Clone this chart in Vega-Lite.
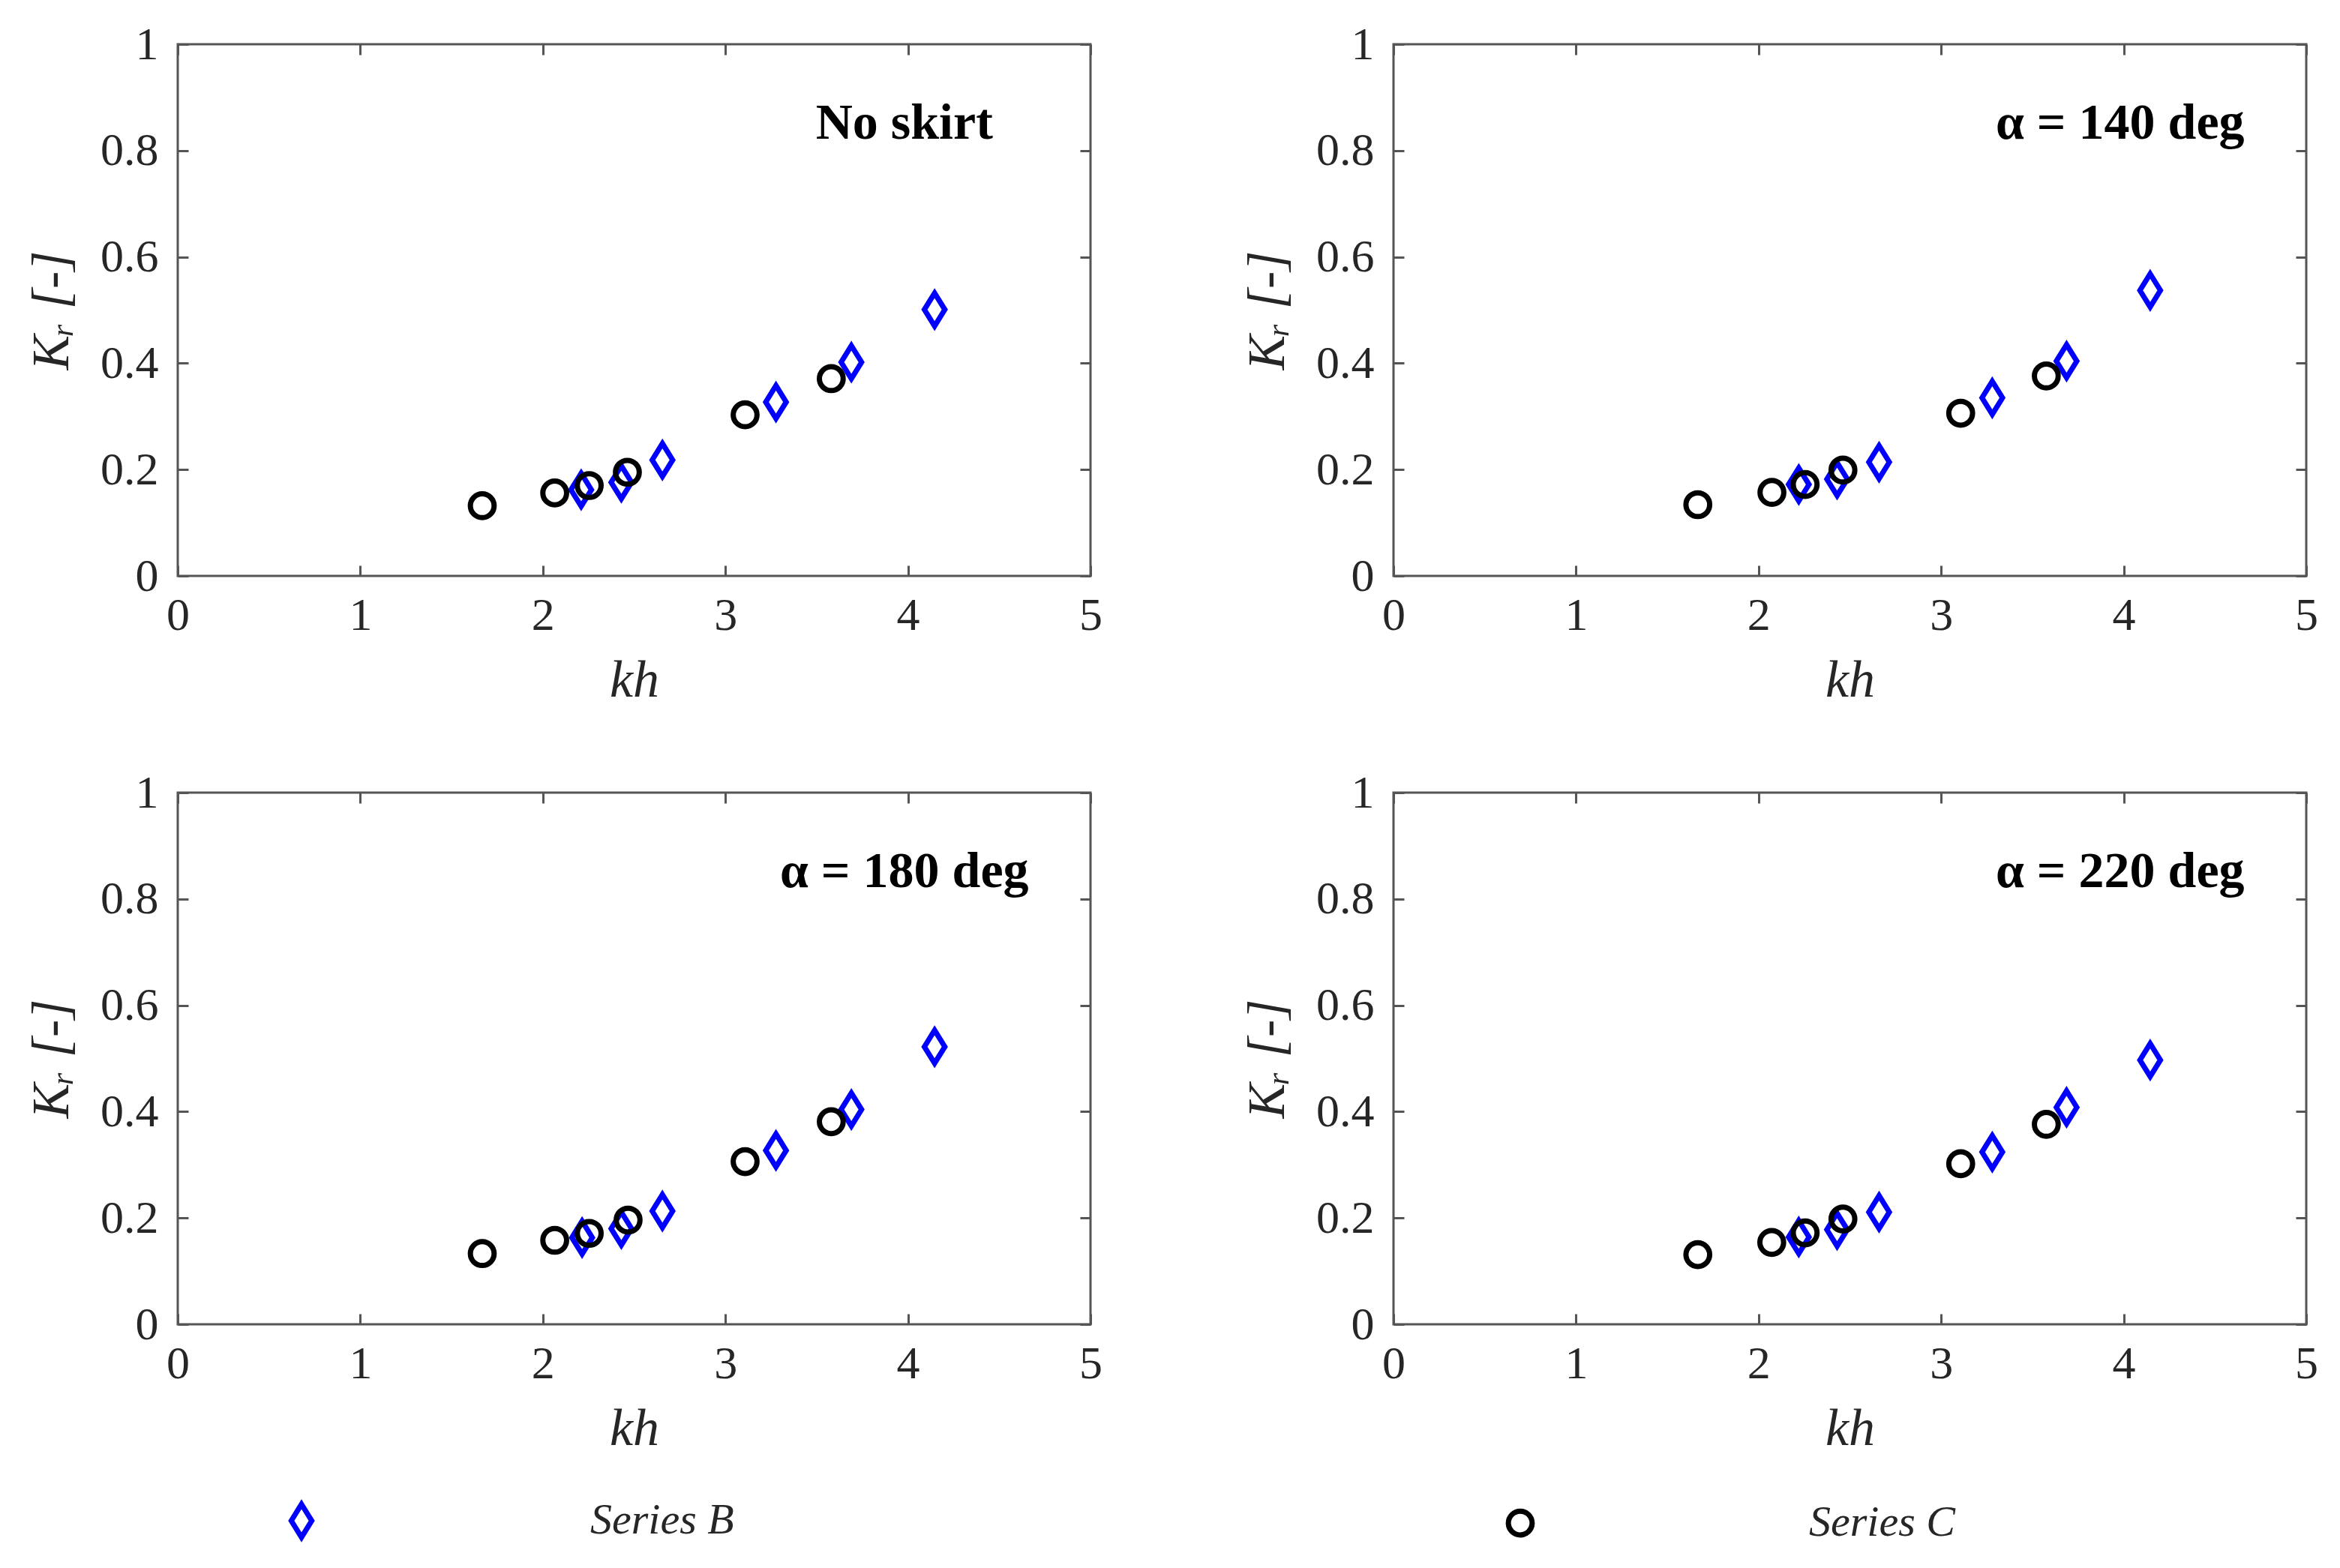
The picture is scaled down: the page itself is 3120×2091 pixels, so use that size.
{
  "$schema": "https://vega.github.io/schema/vega-lite/v6.json",
  "autosize": {"type": "pad"},
  "padding": {"left": 33, "top": 16, "right": 0, "bottom": 0},
  "background": "white",
  "data": {"values": [
    {"panel": "No skirt", "series": "Series B", "kh": 2.21, "kr": 0.162},
    {"panel": "No skirt", "series": "Series B", "kh": 2.43, "kr": 0.176},
    {"panel": "No skirt", "series": "Series B", "kh": 2.655, "kr": 0.218},
    {"panel": "No skirt", "series": "Series B", "kh": 3.277, "kr": 0.327},
    {"panel": "No skirt", "series": "Series B", "kh": 3.69, "kr": 0.402},
    {"panel": "No skirt", "series": "Series B", "kh": 4.146, "kr": 0.501},
    {"panel": "α = 140 deg", "series": "Series B", "kh": 2.22, "kr": 0.172},
    {"panel": "α = 140 deg", "series": "Series B", "kh": 2.43, "kr": 0.182},
    {"panel": "α = 140 deg", "series": "Series B", "kh": 2.66, "kr": 0.214},
    {"panel": "α = 140 deg", "series": "Series B", "kh": 3.28, "kr": 0.335},
    {"panel": "α = 140 deg", "series": "Series B", "kh": 3.687, "kr": 0.404},
    {"panel": "α = 140 deg", "series": "Series B", "kh": 4.145, "kr": 0.537},
    {"panel": "α = 180 deg", "series": "Series B", "kh": 2.215, "kr": 0.163},
    {"panel": "α = 180 deg", "series": "Series B", "kh": 2.43, "kr": 0.18},
    {"panel": "α = 180 deg", "series": "Series B", "kh": 2.655, "kr": 0.213},
    {"panel": "α = 180 deg", "series": "Series B", "kh": 3.277, "kr": 0.327},
    {"panel": "α = 180 deg", "series": "Series B", "kh": 3.69, "kr": 0.404},
    {"panel": "α = 180 deg", "series": "Series B", "kh": 4.146, "kr": 0.522},
    {"panel": "α = 220 deg", "series": "Series B", "kh": 2.22, "kr": 0.164},
    {"panel": "α = 220 deg", "series": "Series B", "kh": 2.43, "kr": 0.178},
    {"panel": "α = 220 deg", "series": "Series B", "kh": 2.66, "kr": 0.211},
    {"panel": "α = 220 deg", "series": "Series B", "kh": 3.28, "kr": 0.324},
    {"panel": "α = 220 deg", "series": "Series B", "kh": 3.687, "kr": 0.408},
    {"panel": "α = 220 deg", "series": "Series B", "kh": 4.145, "kr": 0.497},
    {"panel": "No skirt", "series": "Series C", "kh": 1.668, "kr": 0.132},
    {"panel": "No skirt", "series": "Series C", "kh": 2.065, "kr": 0.156},
    {"panel": "No skirt", "series": "Series C", "kh": 2.254, "kr": 0.17},
    {"panel": "No skirt", "series": "Series C", "kh": 2.463, "kr": 0.195},
    {"panel": "No skirt", "series": "Series C", "kh": 3.108, "kr": 0.303},
    {"panel": "No skirt", "series": "Series C", "kh": 3.58, "kr": 0.371},
    {"panel": "α = 140 deg", "series": "Series C", "kh": 1.667, "kr": 0.134},
    {"panel": "α = 140 deg", "series": "Series C", "kh": 2.073, "kr": 0.157},
    {"panel": "α = 140 deg", "series": "Series C", "kh": 2.255, "kr": 0.172},
    {"panel": "α = 140 deg", "series": "Series C", "kh": 2.462, "kr": 0.199},
    {"panel": "α = 140 deg", "series": "Series C", "kh": 3.107, "kr": 0.306},
    {"panel": "α = 140 deg", "series": "Series C", "kh": 3.576, "kr": 0.376},
    {"panel": "α = 180 deg", "series": "Series C", "kh": 1.668, "kr": 0.133},
    {"panel": "α = 180 deg", "series": "Series C", "kh": 2.065, "kr": 0.158},
    {"panel": "α = 180 deg", "series": "Series C", "kh": 2.254, "kr": 0.171},
    {"panel": "α = 180 deg", "series": "Series C", "kh": 2.467, "kr": 0.196},
    {"panel": "α = 180 deg", "series": "Series C", "kh": 3.108, "kr": 0.306},
    {"panel": "α = 180 deg", "series": "Series C", "kh": 3.58, "kr": 0.381},
    {"panel": "α = 220 deg", "series": "Series C", "kh": 1.667, "kr": 0.131},
    {"panel": "α = 220 deg", "series": "Series C", "kh": 2.072, "kr": 0.154},
    {"panel": "α = 220 deg", "series": "Series C", "kh": 2.255, "kr": 0.172},
    {"panel": "α = 220 deg", "series": "Series C", "kh": 2.462, "kr": 0.198},
    {"panel": "α = 220 deg", "series": "Series C", "kh": 3.107, "kr": 0.302},
    {"panel": "α = 220 deg", "series": "Series C", "kh": 3.576, "kr": 0.376}
  ]},
  "facet": {"field": "panel", "type": "nominal", "sort": ["No skirt", "α = 140 deg", "α = 180 deg", "α = 220 deg"], "header": {"labels": false, "title": null}},
  "columns": 2,
  "spacing": {"row": 289, "column": 404},
  "bounds": "flush",
  "resolve": {"axis": {"x": "independent", "y": "independent"}},
  "spec": {
    "width": 1217,
    "height": 709,
    "layer": [
      {
        "mark": {"type": "point", "filled": false, "strokeWidth": 7, "size": 1936, "opacity": 1},
        "encoding": {
          "x": {"field": "kh", "type": "quantitative", "scale": {"domain": [0, 5], "nice": false},
                "axis": {"title": "kh", "values": [0, 1, 2, 3, 4, 5], "orient": "bottom", "titleFontSize": 70, "titlePadding": 22, "labelPadding": 36}},
          "y": {"field": "kr", "type": "quantitative", "scale": {"domain": [0, 1], "nice": false},
                "axis": {"title": "Kᵣ [-]", "values": [0, 0.2, 0.4, 0.6, 0.8, 1], "format": "~f", "orient": "left", "titleFontSize": 70, "titlePadding": 28, "labelPadding": 40}},
          "shape": {"field": "series", "type": "nominal",
                    "scale": {"domain": ["Series B", "Series C"], "range": ["M0,-1L0.62,0L0,1L-0.62,0Z", "M0.72,0A0.72,0.72 0 1,1 -0.72,0A0.72,0.72 0 1,1 0.72,0Z"]},
                    "legend": {"title": null, "orient": "none", "direction": "horizontal", "legendX": 136, "legendY": 1940,
                               "symbolSize": 1936, "symbolStrokeWidth": 7, "labelOffset": 356, "columnPadding": 1018, "labelLimit": 2000,
                               "labelFont": "Liberation Serif", "labelFontStyle": "italic", "labelFontSize": 58, "labelColor": "#262626", "padding": 0}},
          "color": {"field": "series", "type": "nominal",
                    "scale": {"domain": ["Series B", "Series C"], "range": ["#0000ff", "#000000"]},
                    "legend": {"title": null, "orient": "none", "direction": "horizontal", "legendX": 136, "legendY": 1940,
                               "symbolSize": 1936, "symbolStrokeWidth": 7, "labelOffset": 356, "columnPadding": 1018, "labelLimit": 2000,
                               "labelFont": "Liberation Serif", "labelFontStyle": "italic", "labelFontSize": 58, "labelColor": "#262626", "padding": 0}}
        }
      },
      {
        "transform": [{"aggregate": [{"op": "count", "as": "n"}], "groupby": ["panel"]}],
        "mark": {"type": "text", "font": "Liberation Serif", "fontWeight": "bold", "fontSize": 68, "align": "center", "baseline": "alphabetic", "color": "#000000"},
        "encoding": {
          "text": {"field": "panel", "type": "nominal"},
          "x": {"datum": 3.98, "type": "quantitative",
                "axis": {"orient": "top", "labels": false, "title": null, "values": [0, 1, 2, 3, 4, 5]}},
          "y": {"datum": 0.822, "type": "quantitative",
                "axis": {"orient": "right", "labels": false, "title": null, "values": [0, 0.2, 0.4, 0.6, 0.8, 1]}}
        }
      }
    ],
    "resolve": {"axis": {"x": "independent", "y": "independent"}}
  },
  "config": {
    "view": {"stroke": "#555555", "strokeWidth": 3},
    "header": {"labels": false, "title": null, "labelExpr": "''", "labelPadding": 0},
    "headerFacet": {"labels": false, "title": null, "labelExpr": "''", "labelPadding": 0},
    "axis": {
      "labelFont": "Liberation Serif", "labelFontSize": 62, "labelColor": "#262626",
      "titleFont": "Liberation Serif", "titleFontStyle": "italic", "titleFontWeight": "normal", "titleColor": "#262626",
      "domain": false, "grid": false, "ticks": true, "tickColor": "#555555", "tickWidth": 3, "tickSize": -14,
      "labelPadding": 30, "labelFlush": false, "labelOverlap": false
    }
  }
}
